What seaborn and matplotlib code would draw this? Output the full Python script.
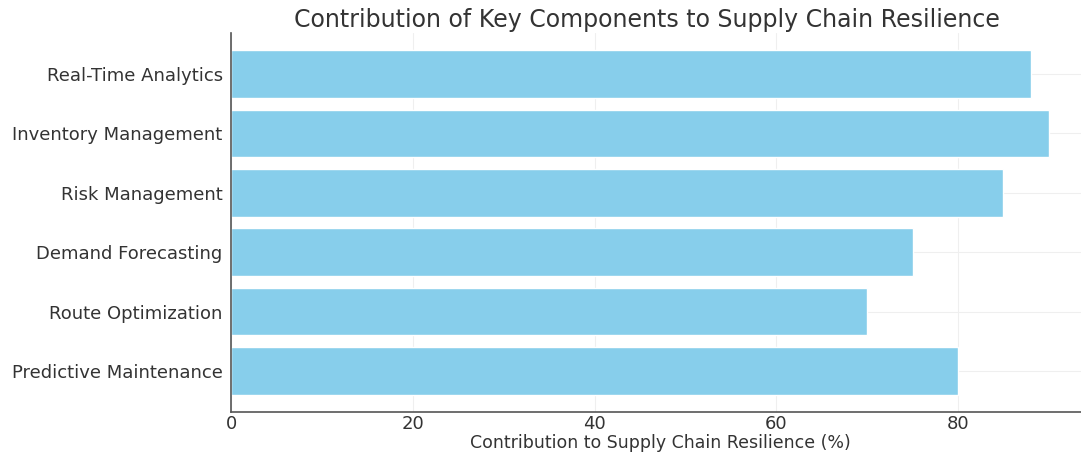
import matplotlib
matplotlib.use("Agg")
import matplotlib.pyplot as plt
import seaborn as sns
import pandas as pd

components = ["Real-Time Analytics", "Inventory Management", "Risk Management",
              "Demand Forecasting", "Route Optimization", "Predictive Maintenance"]
contribution = [88, 90, 85, 75, 70, 80]
x_ticks = [0, 20, 40, 60, 80]

df = pd.DataFrame({"Component": components, "Contribution": contribution})

sns.set_theme(style="whitegrid")
plt.rcParams["font.family"] = ["DejaVu Sans"]

fig = plt.figure(figsize=(10.81, 4.53), dpi=100)
ax = fig.add_axes([0.2137, 0.0905, 0.7944, 0.8366])
sns.barplot(data=df, x="Contribution", y="Component", color="skyblue",
            saturation=1, width=0.8, ax=ax)
ax.set_ylim(5.69, -0.69)
ax.set_xlim(0, 94.5)
ax.set_xticks(x_ticks)
ax.grid(True, color="#efefef", linewidth=0.8)
ax.set_axisbelow(True)
for s in ["top", "right"]:
    ax.spines[s].set_visible(False)
for s in ["left", "bottom"]:
    ax.spines[s].set_color("#555555")
    ax.spines[s].set_linewidth(1.2)
ax.tick_params(axis="both", labelsize=13, colors="#333333", length=3, width=0.8)
ax.tick_params(axis="x", pad=-1)
ax.tick_params(axis="y", pad=3)
ax.set_ylabel("")
ax.set_xlabel("Contribution to Supply Chain Resilience (%)", fontsize=12.5, color="#333333", labelpad=1)
ax.set_title("Contribution of Key Components to Supply Chain Resilience", fontsize=17,
             color="#333333", pad=4, x=0.484)

fig.savefig("out.png", dpi=100)
